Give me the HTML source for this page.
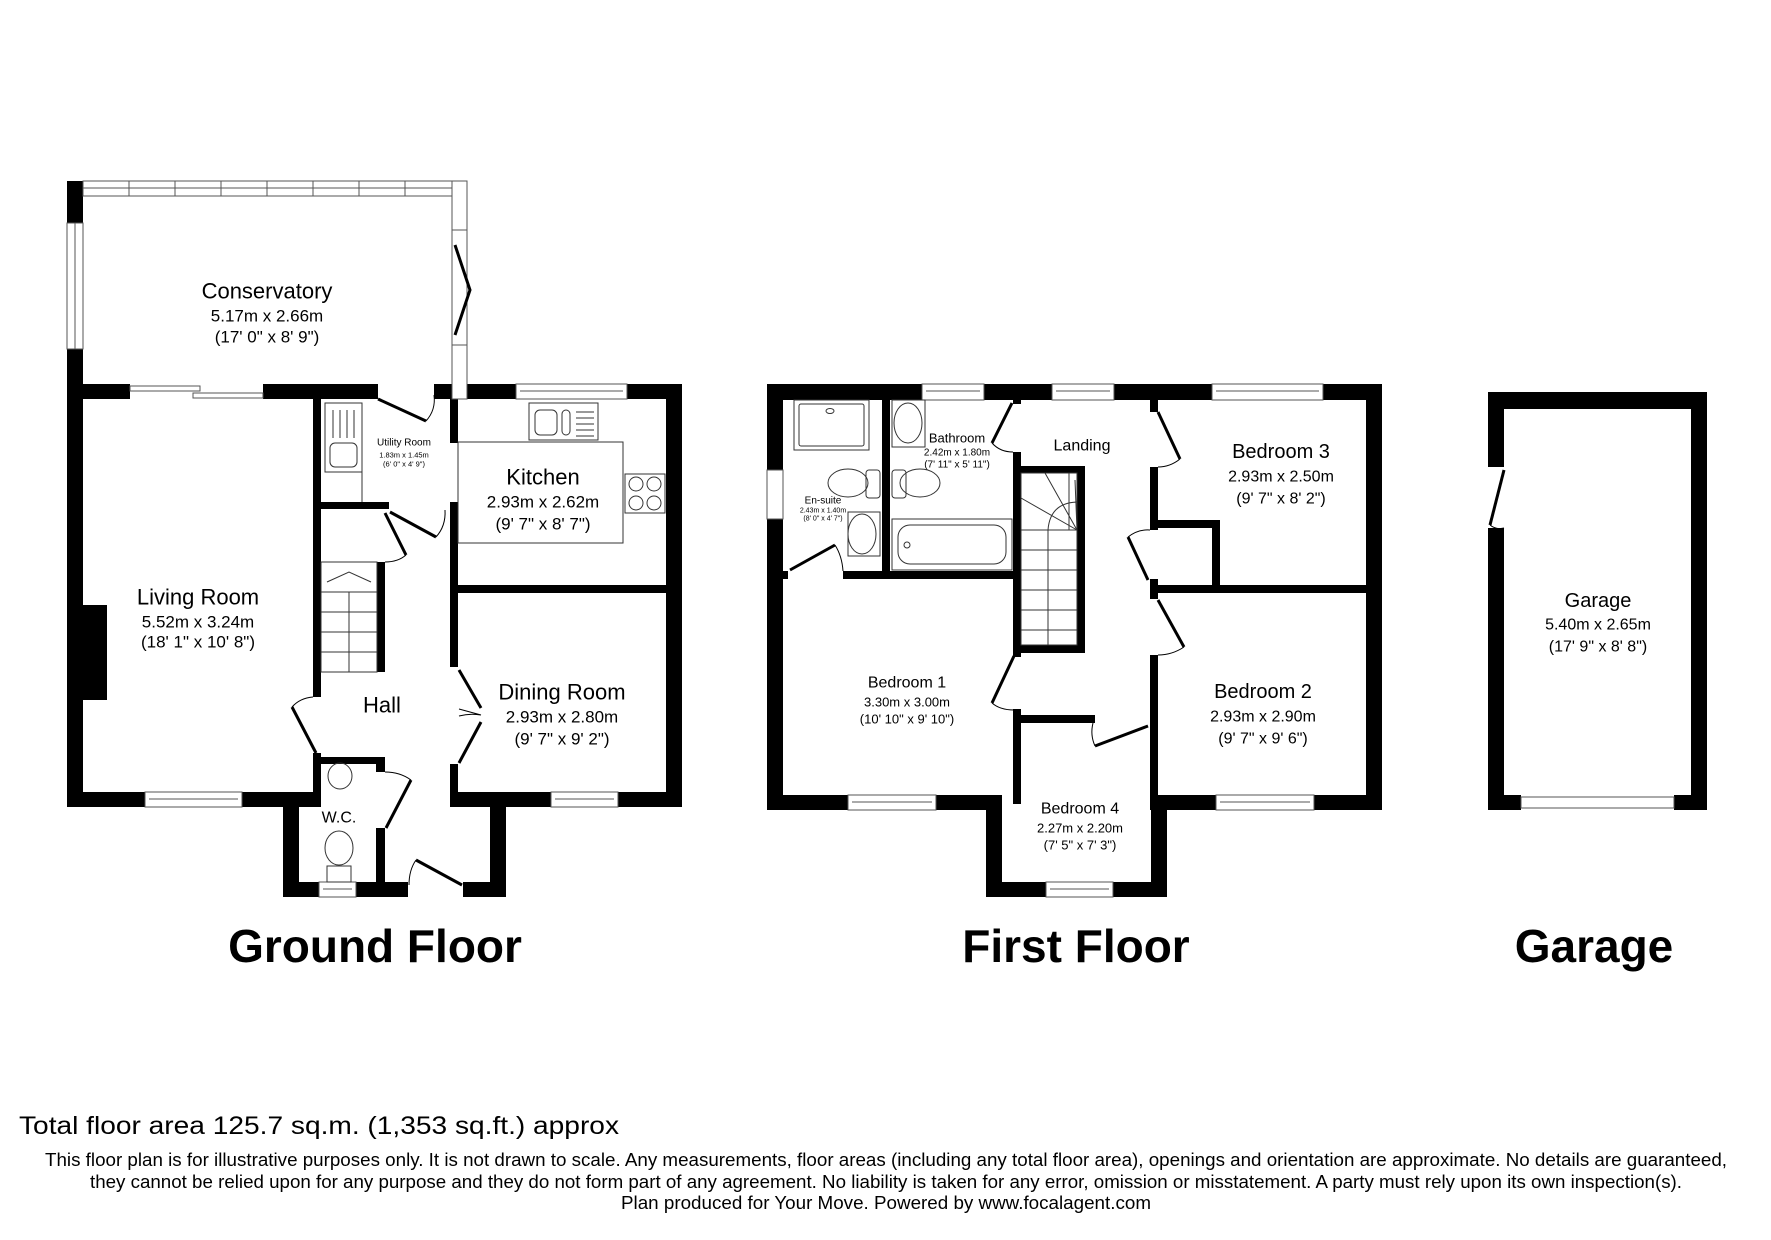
<!DOCTYPE html>
<html><head><meta charset="utf-8"><style>
html,body{margin:0;padding:0;background:#fff;}
svg{display:block;font-family:"Liberation Sans",Arial,sans-serif;}
</style></head><body>
<svg width="1771" height="1240" viewBox="0 0 1771 1240" xmlns="http://www.w3.org/2000/svg">
<rect width="1771" height="1240" fill="#fff"/>
<g fill="#000">
<rect x="67" y="181" width="16" height="42"/>
<rect x="67" y="349" width="16" height="458"/>
<rect x="67" y="384" width="63" height="15"/>
<rect x="263" y="384" width="115" height="15"/>
<rect x="434" y="384" width="82" height="15"/>
<rect x="627" y="384" width="55" height="15"/>
<rect x="666" y="384" width="16" height="423"/>
<rect x="83" y="605" width="24" height="95"/>
<rect x="67" y="792" width="78" height="15"/>
<rect x="242" y="792" width="79" height="15"/>
<rect x="283" y="792" width="16" height="105"/>
<rect x="283" y="882" width="36" height="15"/>
<rect x="356" y="882" width="52" height="15"/>
<rect x="463" y="882" width="43" height="15"/>
<rect x="490" y="792" width="16" height="105"/>
<rect x="450" y="792" width="101" height="15"/>
<rect x="618" y="792" width="64" height="15"/>
<rect x="313" y="399" width="8" height="298"/>
<rect x="313" y="753" width="8" height="54"/>
<rect x="313" y="757" width="72" height="7"/>
<rect x="376" y="757" width="9" height="15"/>
<rect x="376" y="828" width="9" height="54"/>
<rect x="377" y="562" width="8" height="110"/>
<rect x="321" y="502" width="68" height="7"/>
<rect x="450" y="399" width="8" height="44"/>
<rect x="450" y="502" width="8" height="165"/>
<rect x="450" y="764" width="8" height="43"/>
<rect x="458" y="585" width="208" height="8"/>
<rect x="767" y="384" width="155" height="16"/>
<rect x="984" y="384" width="68" height="16"/>
<rect x="1114" y="384" width="98" height="16"/>
<rect x="1323" y="384" width="59" height="16"/>
<rect x="767" y="384" width="16" height="86"/>
<rect x="767" y="519" width="16" height="291"/>
<rect x="1366" y="384" width="16" height="426"/>
<rect x="767" y="795" width="81" height="15"/>
<rect x="936" y="795" width="66" height="15"/>
<rect x="986" y="795" width="16" height="102"/>
<rect x="986" y="882" width="60" height="15"/>
<rect x="1113" y="882" width="54" height="15"/>
<rect x="1151" y="795" width="16" height="102"/>
<rect x="1150" y="795" width="66" height="15"/>
<rect x="1314" y="795" width="68" height="15"/>
<rect x="882" y="400" width="8" height="179"/>
<rect x="843" y="571" width="178" height="8"/>
<rect x="783" y="571" width="5" height="8"/>
<rect x="1013" y="400" width="8" height="4"/>
<rect x="1013" y="452" width="8" height="205"/>
<rect x="1013" y="709" width="8" height="95"/>
<rect x="1021" y="466" width="64" height="7"/>
<rect x="1077" y="466" width="8" height="187"/>
<rect x="1013" y="645" width="72" height="8"/>
<rect x="1021" y="715" width="74" height="8"/>
<rect x="1150" y="400" width="8" height="12"/>
<rect x="1150" y="467" width="8" height="63"/>
<rect x="1150" y="520" width="70" height="8"/>
<rect x="1212" y="520" width="8" height="73"/>
<rect x="1150" y="585" width="216" height="8"/>
<rect x="1150" y="579" width="8" height="20"/>
<rect x="1150" y="655" width="8" height="155"/>
<rect x="1488" y="392" width="219" height="17"/>
<rect x="1488" y="392" width="16" height="75"/>
<rect x="1488" y="528" width="16" height="282"/>
<rect x="1691" y="392" width="16" height="418"/>
<rect x="1488" y="795" width="33" height="15"/>
<rect x="1674" y="795" width="33" height="15"/>
</g>
<g fill="#fff" stroke="#555" stroke-width="1">
<rect x="83" y="181" width="384" height="15"/>
<rect x="67" y="223" width="16" height="126"/>
<rect x="452" y="181" width="15" height="218"/>
<rect x="130" y="386" width="70" height="5"/>
<rect x="193" y="393" width="70" height="5"/>
<rect x="516" y="384" width="111" height="15"/>
<rect x="145" y="792" width="97" height="15"/>
<rect x="551" y="792" width="67" height="15"/>
<rect x="319" y="882" width="37" height="15"/>
<rect x="922" y="384" width="62" height="16"/>
<rect x="1052" y="384" width="62" height="16"/>
<rect x="1212" y="384" width="111" height="16"/>
<rect x="767" y="470" width="16" height="49"/>
<rect x="848" y="795" width="88" height="15"/>
<rect x="1046" y="882" width="67" height="15"/>
<rect x="1216" y="795" width="98" height="15"/>
<rect x="1521" y="797" width="153" height="11"/>
</g>
<g stroke="#555" stroke-width="1" fill="none">
<path d="M129 181v15M175 181v15M221 181v15M267 181v15M313 181v15M359 181v15M405 181v15M83 188h369"/>
<path d="M75 223v126M452 230h15M452 345h15M452 240v100M467 240v100"/>
<path d="M520 391h103M149 799h89M555 799h59M926 391h54M1056 391h54M1216 391h103M852 802h80M1050 889h59M1220 802h90M323 889h29"/>
</g>
<g stroke="#000" stroke-width="3" fill="none">
<path d="M378 399L426 421"/><path d="M390 512L436 537"/><path d="M385 513L406 555"/>
<path d="M292 707L316 753"/><path d="M459 670L481 708M481 722L459 763"/><path d="M411 780L386 828"/>
<path d="M416 860L462 885"/><path d="M455 245L470 290L455 335"/>
<path d="M1012 403L992 443"/><path d="M790 570L835 545"/><path d="M1014 656L992 703"/>
<path d="M1158 412L1180 459"/><path d="M1128 537L1148 580"/><path d="M1158 600L1184 647"/>
<path d="M1095 746L1148 726"/><path d="M1504 470L1490 525"/>
</g>
<g stroke="#000" stroke-width="1" fill="none">
<path d="M426 421Q436 410 434 395"/><path d="M436 537Q446 526 445 510"/><path d="M406 555Q398 562 385 562"/>
<path d="M292 707Q300 698 313 697"/><path d="M411 780Q400 772 385 772"/><path d="M416 860Q409 870 409 885"/>
<path d="M992 443Q1000 452 1013 452"/><path d="M835 545Q842 556 843 571"/><path d="M992 703Q1000 710 1014 710"/>
<path d="M1180 459Q1170 467 1158 467"/><path d="M1128 537Q1138 529 1150 530"/><path d="M1184 647Q1172 655 1158 655"/>
<path d="M1095 746Q1090 735 1093 723"/><path d="M1490 525Q1496 530 1504 528"/>
<path d="M459 709Q470 712 481 715M459 716Q470 713 481 715"/>
</g>
<g stroke="#333" stroke-width="1" fill="none">
<rect x="325" y="403" width="37" height="69"/><rect x="330" y="443" width="27" height="24" rx="5"/>
<path d="M333 410v28M340 410v28M347 410v28M354 410v28M362 472v30"/>
<rect x="458" y="442" width="165" height="101"/>
<rect x="529" y="403" width="69" height="37"/><rect x="535" y="410" width="22" height="25" rx="5"/><rect x="562" y="410" width="8" height="25" rx="4"/>
<path d="M576 412h18M576 418h18M576 424h18M576 430h18M576 436h18"/>
<rect x="625" y="474" width="40" height="39"/>
<circle cx="636" cy="484" r="7"/><circle cx="654" cy="484" r="7"/><circle cx="636" cy="503" r="7"/><circle cx="654" cy="503" r="7"/>
<rect x="321" y="562" width="56" height="110"/>
<path d="M321 592h56M321 612h56M321 632h56M321 652h56M349 592v80M327 582L349 572L371 582"/>
<ellipse cx="340" cy="776" rx="12" ry="13"/>
<ellipse cx="339" cy="848" rx="14" ry="17"/><rect x="327" y="866" width="24" height="16"/>
<rect x="794" y="400" width="75" height="50"/><rect x="799" y="404" width="65" height="42" rx="2"/><ellipse cx="830" cy="411" rx="4" ry="2.5"/>
<rect x="892" y="400" width="33" height="47"/><ellipse cx="908" cy="423" rx="14" ry="20"/>
<ellipse cx="920" cy="483" rx="20" ry="14"/><rect x="892" y="470" width="14" height="28" rx="3"/>
<ellipse cx="848" cy="483" rx="20" ry="14"/><rect x="866" y="470" width="14" height="28" rx="3"/>
<rect x="848" y="512" width="32" height="44"/><ellipse cx="862" cy="534" rx="14" ry="20"/>
<rect x="892" y="519" width="120" height="51"/><rect x="898" y="525" width="108" height="39" rx="12"/><circle cx="907" cy="545" r="3"/>
<rect x="1021" y="473" width="56" height="172"/>
<path d="M1021 530h56M1021 550h56M1021 570h56M1021 590h56M1021 610h56M1021 630h56M1048 530v115"/>
<path d="M1021 498L1077 530M1045 473L1077 530M1075 480L1077 530M1048 530Q1050 503 1077 502M1069 473v57"/>
</g>
<g fill="#000" text-anchor="middle" dominant-baseline="central">
<text x="267" y="291" font-size="22">Conservatory</text>
<text x="267" y="316" font-size="17">5.17m x 2.66m</text>
<text x="267" y="337" font-size="17">(17' 0" x 8' 9")</text>
<text x="198" y="597" font-size="22">Living Room</text>
<text x="198" y="622" font-size="17">5.52m x 3.24m</text>
<text x="198" y="642" font-size="17">(18' 1" x 10' 8")</text>
<text x="404" y="443" font-size="10">Utility Room</text>
<text x="404" y="455" font-size="7.5">1.83m x 1.45m</text>
<text x="404" y="464" font-size="7.5">(6' 0" x 4' 9")</text>
<text x="543" y="477" font-size="22">Kitchen</text>
<text x="543" y="502" font-size="17">2.93m x 2.62m</text>
<text x="543" y="524" font-size="17">(9' 7" x 8' 7")</text>
<text x="382" y="705" font-size="22">Hall</text>
<text x="562" y="692" font-size="22">Dining Room</text>
<text x="562" y="717" font-size="17">2.93m x 2.80m</text>
<text x="562" y="739" font-size="17">(9' 7" x 9' 2")</text>
<text x="339" y="818" font-size="16">W.C.</text>
<text x="957" y="438" font-size="13">Bathroom</text>
<text x="957" y="453" font-size="10">2.42m x 1.80m</text>
<text x="957" y="465" font-size="10">(7' 11" x 5' 11")</text>
<text x="823" y="501" font-size="10">En-suite</text>
<text x="823" y="511" font-size="7">2.43m x 1.40m</text>
<text x="823" y="519" font-size="7">(8' 0" x 4' 7")</text>
<text x="1082" y="446" font-size="16">Landing</text>
<text x="1281" y="452" font-size="20">Bedroom 3</text>
<text x="1281" y="477" font-size="16">2.93m x 2.50m</text>
<text x="1281" y="499" font-size="16">(9' 7" x 8' 2")</text>
<text x="907" y="683" font-size="16">Bedroom 1</text>
<text x="907" y="702" font-size="13">3.30m x 3.00m</text>
<text x="907" y="719" font-size="13">(10' 10" x 9' 10")</text>
<text x="1263" y="692" font-size="20">Bedroom 2</text>
<text x="1263" y="717" font-size="16">2.93m x 2.90m</text>
<text x="1263" y="739" font-size="16">(9' 7" x 9' 6")</text>
<text x="1080" y="809" font-size="16">Bedroom 4</text>
<text x="1080" y="828" font-size="13">2.27m x 2.20m</text>
<text x="1080" y="845" font-size="13">(7' 5" x 7' 3")</text>
<text x="1598" y="601" font-size="20">Garage</text>
<text x="1598" y="625" font-size="16">5.40m x 2.65m</text>
<text x="1598" y="647" font-size="16">(17' 9" x 8' 8")</text>
</g>
<g fill="#000" text-anchor="middle" font-weight="bold" font-size="46">
<text x="375" y="962">Ground Floor</text>
<text x="1076" y="962">First Floor</text>
<text x="1594" y="962">Garage</text>
</g>
<text x="19" y="1134" font-size="25" fill="#000" textLength="600" lengthAdjust="spacingAndGlyphs">Total floor area 125.7 sq.m. (1,353 sq.ft.) approx</text>
<g fill="#000" text-anchor="middle" font-size="18">
<text x="886" y="1166" textLength="1682" lengthAdjust="spacingAndGlyphs">This floor plan is for illustrative purposes only. It is not drawn to scale. Any measurements, floor areas (including any total floor area), openings and orientation are approximate. No details are guaranteed,</text>
<text x="886" y="1188" textLength="1592" lengthAdjust="spacingAndGlyphs">they cannot be relied upon for any purpose and they do not form part of any agreement. No liability is taken for any error, omission or misstatement. A party must rely upon its own inspection(s).</text>
<text x="886" y="1209" textLength="530" lengthAdjust="spacingAndGlyphs">Plan produced for Your Move. Powered by www.focalagent.com</text>
</g>
</svg>
</body></html>
